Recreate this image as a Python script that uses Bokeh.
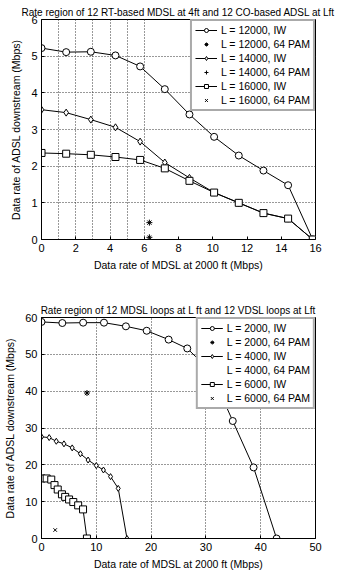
from bokeh.plotting import figure
from bokeh.layouts import column
from bokeh.models import Legend, LegendItem, FixedTicker, ColumnDataSource
from bokeh.embed import file_html
from bokeh.resources import INLINE

# ---------------- data: top chart ----------------
top_title = "Rate region of 12 RT-based MDSL at 4ft and 12 CO-based ADSL at Lft"
top_x = [0, 1.44, 2.88, 4.32, 5.76, 7.2, 8.64, 10.08, 11.52, 12.96, 14.4, 15.84]
top_y_12000 = [5.22, 5.11, 5.12, 5.02, 4.72, 4.10, 3.41, 2.80, 2.29, 1.88, 1.48, 0.0]
top_y_14000 = [3.54, 3.46, 3.27, 3.06, 2.67, 2.10, 1.68, 1.28, 1.00, 0.72, 0.57, 0.0]
top_y_16000 = [2.36, 2.34, 2.31, 2.25, 2.17, 1.94, 1.60, 1.28, 1.00, 0.72, 0.57, 0.0]
top_pam_12000 = ([6.3], [0.46])
top_pam_14000 = ([6.3], [0.06])
top_pam_16000 = ([6.3], [0.06])
top_labels = ["L = 12000, IW", "L = 12000, 64 PAM", "L = 14000, IW",
              "L = 14000, 64 PAM", "L = 16000, IW", "L = 16000, 64 PAM"]
top_xticks = [0, 2, 4, 6, 8, 10, 12, 14, 16]
top_yticks = [0, 1, 2, 3, 4, 5, 6]

# ---------------- data: bottom chart ----------------
bot_title = "Rate region of 12 MDSL loops at L ft and 12 VDSL loops at Lft"
bot_x_2000 = [0, 3.8, 7.6, 11.4, 15.4, 19.2, 23.2, 26.6, 30.8, 34.9, 38.7, 42.9]
bot_y_2000 = [58.8, 58.5, 58.6, 58.6, 57.6, 56.4, 54.0, 51.6, 45.5, 31.9, 19.3, 0.0]
bot_x_4000 = [0, 1.4, 2.7, 4.1, 5.6, 7.1, 8.5, 10.0, 11.3, 12.6, 14.0, 15.6]
bot_y_4000 = [27.6, 27.4, 26.4, 25.7, 24.6, 23.0, 21.3, 19.8, 18.6, 16.8, 13.6, 0.0]
bot_x_6000 = [0, 0.94, 1.78, 2.37, 2.96, 3.73, 4.32, 5.03, 5.8, 6.69, 7.58, 8.29]
bot_y_6000 = [16.3, 16.3, 16.0, 14.5, 13.3, 12.0, 11.3, 10.6, 9.9, 9.0, 7.9, 0.0]
bot_pam_2000 = ([8.3], [39.5])
bot_pam_4000 = ([], [])
bot_pam_6000 = ([2.5], [2.3])
bot_labels = ["L = 2000, IW", "L = 2000, 64 PAM", "L = 4000, IW",
              "L = 4000, 64 PAM", "L = 6000, IW", "L = 6000, 64 PAM"]
bot_xticks = [0, 10, 20, 30, 40, 50]
bot_yticks = [0, 10, 20, 30, 40, 50, 60]

xlabel = "Data rate of MDSL at 2000 ft (Mbps)"
ylabel = "Data rate of ADSL downstream (Mbps)"

FONT = "Liberation Sans"


def make_fig(title, height, xr, yr, xticks, yticks, bl, br, bt, bb):
    p = figure(width=340, height=height, x_range=xr, y_range=yr,
               output_backend="svg", toolbar_location=None, title=title,
               min_border_left=bl, min_border_right=br,
               min_border_top=bt, min_border_bottom=bb)
    p.title.text_font = FONT
    p.title.text_font_size = "10px"
    p.title.text_font_style = "normal"
    p.title.text_color = "black"
    p.title.align = "center"
    p.title.standoff = 4
    p.title.offset = 0
    p.outline_line_color = "black"
    p.outline_line_width = 1
    p.outline_line_alpha = 1
    for ax in (p.xaxis, p.yaxis):
        ax.axis_label_text_font = FONT
        ax.axis_label_text_font_size = "10.5px"
        ax.axis_label_text_font_style = "normal"
        ax.major_label_text_font = FONT
        ax.major_label_text_font_size = "11px"
        ax.major_tick_in = 3
        ax.major_tick_out = 0
        ax.minor_tick_line_color = None
        ax.axis_line_color = "black"
        ax.major_tick_line_color = "black"
        ax.major_label_text_color = "black"
        ax.axis_label_text_color = "black"
    p.xaxis.axis_label = xlabel
    p.yaxis.axis_label = ylabel
    p.xaxis.ticker = FixedTicker(ticks=xticks)
    p.yaxis.ticker = FixedTicker(ticks=yticks)
    p.xaxis.major_label_standoff = 4
    p.yaxis.major_label_standoff = 4
    p.xaxis.axis_label_standoff = 4
    p.yaxis.axis_label_standoff = 6
    for g in (p.xgrid, p.ygrid):
        g.grid_line_color = "#333333"
        g.grid_line_dash = "1 2"
        g.grid_line_width = 1
        g.ticker = FixedTicker(ticks=xticks if g is p.xgrid else yticks)
    return p


def add_series(p, series, labels):
    items = []
    for (x, y, kind, marker, size), lab in zip(series, labels):
        src = ColumnDataSource(dict(x=x, y=y))
        rs = []
        if kind == "line":
            rs.append(p.line("x", "y", source=src, line_color="black", line_width=1))
            rs.append(p.scatter("x", "y", source=src, marker=marker, size=size,
                                line_color="black", fill_color="white", line_width=1))
        else:
            rs.append(p.scatter("x", "y", source=src, marker=marker, size=size,
                                line_color="black", fill_color="black", line_width=1))
        items.append(LegendItem(label=lab, renderers=rs))
    leg = Legend(items=items, location="top_right")
    leg.label_text_font = FONT
    leg.label_text_font_size = "10.5px"
    leg.label_text_color = "black"
    leg.label_height = 10
    leg.glyph_height = 10
    leg.glyph_width = 22
    leg.spacing = 2
    leg.padding = 3
    leg.margin = 0
    leg.label_standoff = 4
    leg.border_line_color = "#555555"
    leg.border_line_width = 2
    leg.background_fill_alpha = 1
    p.add_layout(leg)


# ---- top ----
p1 = make_fig(top_title, 290, (0, 16), (0, 6), top_xticks, top_yticks, 34, 25, 19, 51)
top_series = [
    (top_x, top_y_12000, "line", "circle", 7),
    (top_pam_12000[0], top_pam_12000[1], "pt", "asterisk", 6),
    (top_x, top_y_14000, "line", "diamond", 7),
    (top_pam_14000[0], top_pam_14000[1], "pt", "cross", 6),
    (top_x, top_y_16000, "line", "square", 7),
    (top_pam_16000[0], top_pam_16000[1], "pt", "x", 5),
]
add_series(p1, top_series, top_labels)

# ---- bottom ----
p2 = make_fig(bot_title, 283, (0, 50), (0, 60), bot_xticks, bot_yticks, 41, 18, 27, 35)
bot_series = [
    (bot_x_2000, bot_y_2000, "line", "circle", 7),
    (bot_pam_2000[0], bot_pam_2000[1], "pt", "asterisk", 6),
    (bot_x_4000, bot_y_4000, "line", "diamond", 6),
    (bot_pam_4000[0], bot_pam_4000[1], "pt", "cross", 6),
    (bot_x_6000, bot_y_6000, "line", "square", 7),
    (bot_pam_6000[0], bot_pam_6000[1], "pt", "x", 5),
]
add_series(p2, bot_series, bot_labels)

layout = column(p1, p2, spacing=0)
open("out.html", "w").write(file_html(layout, INLINE))
